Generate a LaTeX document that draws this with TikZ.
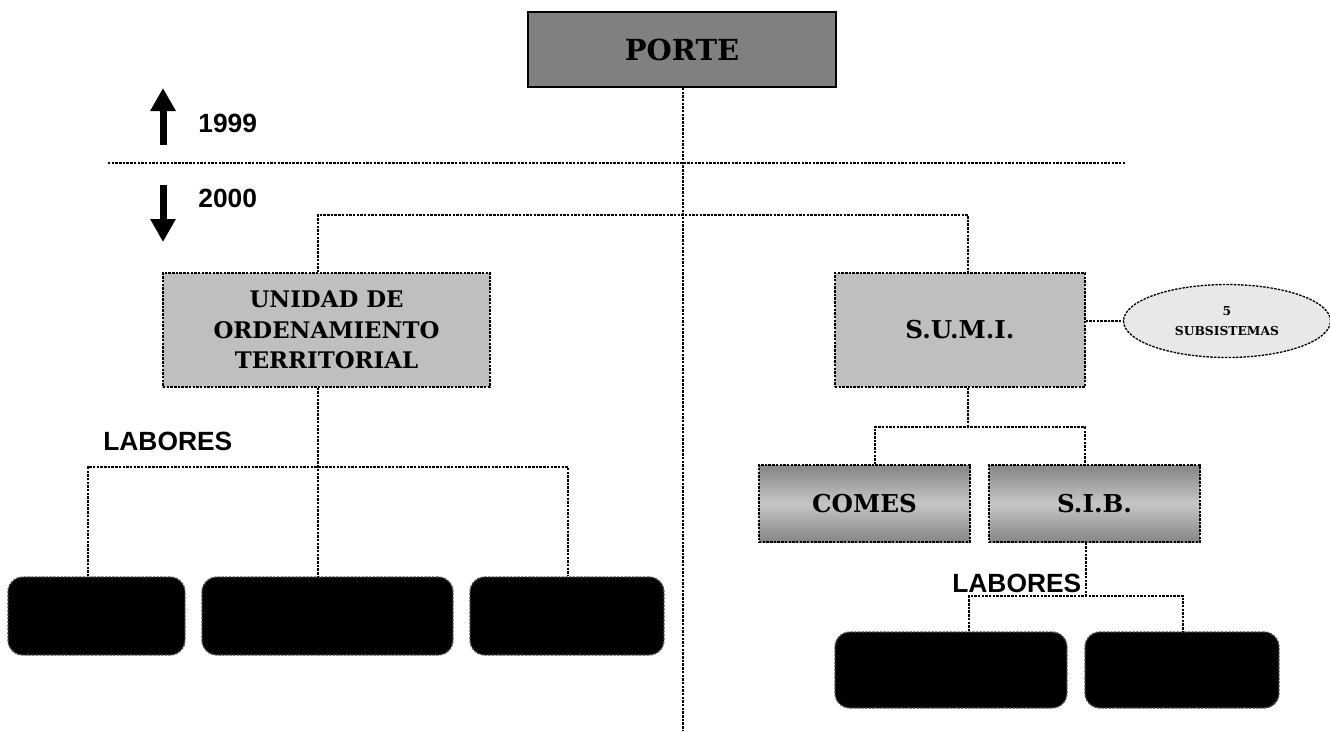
\documentclass[tikz,border=0pt]{standalone}
\usepackage{fontspec}
\setmainfont{DejaVu Serif}
\newfontfamily\yearfont{Liberation Sans}
\usetikzlibrary{arrows.meta,shapes.geometric}

\begin{document}
\begin{tikzpicture}[x=0.02cm,y=-0.02cm,
        link/.style={dash pattern=on 1.4pt off 0.7pt,line width=0.75pt},
        unit/.style={draw,link,fill=gray!50,font=\bfseries\fontsize{13}{17.5}\selectfont,align=center,
            inner sep=0pt,minimum height=2.28cm},
        subunit/.style={draw,link,top color=gray!95,bottom color=gray!95,middle color=gray!45,
            font=\bfseries\fontsize{14}{17}\selectfont,inner sep=0pt,minimum height=1.54cm,minimum width=4.22cm},
        task/.style={draw=black!70,link,fill=black,rounded corners=0.3cm,inner sep=0pt},
        yeartext/.style={font=\yearfont\bfseries\fontsize{15}{18}\selectfont,anchor=west,inner sep=0pt},
        period/.style={line width=0.14cm,-{Triangle[width=0.48cm,length=0.46cm]}}]
    \useasboundingbox (0,0) rectangle (1330,731);
    \node[draw,line width=1pt,fill=gray,minimum width=6.16cm,minimum height=1.5cm,inner sep=0pt,
        font=\bfseries\fontsize{16.5}{18}\selectfont] (porte) at (682,49.5) {PORTE};
    \coordinate (bottom) at (683,731);
    \draw[link] (porte.south -| bottom) -- (bottom);
    \draw[link] (108,163) -- (1125,163);
    \draw[period] (163,145) -- (163,88);
    \draw[period] (163,185) -- (163,242);
    \node[yeartext] (y1999) at (198,123) {1999};
    \node[yeartext] (y2000) at (198,198) {2000};
    \node[unit,minimum width=6.54cm] (uot) at (326.5,330) {UNIDAD DE\\ORDENAMIENTO\\TERRITORIAL};
    \node[unit,minimum width=5cm,font=\bfseries\fontsize{14}{17}\selectfont] (sumi) at (960,330) {S.U.M.I.};
    \node[ellipse,draw,link,fill=gray!18,minimum width=4.14cm,minimum height=1.46cm,inner sep=0pt,align=center,
        font=\bfseries\fontsize{7}{11}\selectfont] (subs) at (1227,321) {5\\SUBSISTEMAS};
    \coordinate (lt) at (318,215);
    \coordinate (rt) at (968,215);
    \draw[link] (lt |- uot.north) -- (lt) -- (rt) -- (rt |- sumi.north);
    \draw[link] (sumi.east |- subs.west) -- (subs.west);
    \node[task,minimum width=3.54cm,minimum height=1.56cm] (b1) at (96.5,616) {};
    \node[task,minimum width=5.02cm,minimum height=1.56cm] (b2) at (327.5,616) {};
    \node[task,minimum width=3.88cm,minimum height=1.56cm] (b3) at (567,616) {};
    \node[yeartext] (lab1) at (103,441) {LABORES};
    \coordinate (h1) at (88,467);
    \coordinate (h3) at (568,467);
    \draw[link] (lt |- uot.south) -- (lt |- b2.north);
    \draw[link] (h1 |- b1.north) -- (h1) -- (h3) -- (h3 |- b3.north);
    \node[subunit] (comes) at (864.5,503.5) {COMES};
    \node[subunit] (sib) at (1094.5,503.5) {S.I.B.};
    \coordinate (s1) at (875,427);
    \coordinate (s2) at (1085,427);
    \draw[link] (rt |- sumi.south) -- (rt |- s1);
    \draw[link] (s1 |- comes.north) -- (s1) -- (s2) -- (s2 |- sib.north);
    \node[task,minimum width=4.64cm,minimum height=1.52cm] (b4) at (951,670) {};
    \node[task,minimum width=3.88cm,minimum height=1.52cm] (b5) at (1182,670) {};
    \node[yeartext] (lab2) at (952,583) {LABORES};
    \coordinate (t0) at (1086,596);
    \coordinate (t1) at (969,596);
    \coordinate (t2) at (1183,596);
    \draw[link] (t0 |- sib.south) -- (t0);
    \draw[link] (t1 |- b4.north) -- (t1) -- (t2) -- (t2 |- b5.north);
\end{tikzpicture}
\end{document}
